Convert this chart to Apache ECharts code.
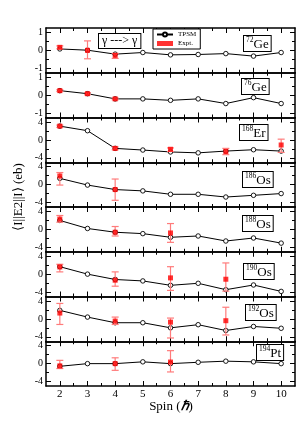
<!DOCTYPE html>
<html><head><meta charset="utf-8">
<script src="https://cdn.jsdelivr.net/npm/echarts@6/dist/echarts.min.js"></script>
<style>html,body{margin:0;padding:0;background:#fff}#c{width:299px;height:423px}</style>
</head><body><div id="c"></div>
<script>
// ---------- data ----------
const spins = [2, 3, 4, 5, 6, 7, 8, 9, 10];
const xMajorTicks = [2, 3, 4, 5, 6, 7, 8, 9, 10];
const xMinorTicks = [2.5, 3.5, 4.5, 5.5, 6.5, 7.5, 8.5, 9.5];
const massNumbers = ['72', '76', '168', '186', '188', '190', '192', '194'];
const elements = ['Ge', 'Ge', 'Er', 'Os', 'Os', 'Os', 'Os', 'Pt'];
const geMajorTicks = [-1, 0, 1];
const geMinorTicks = [-0.5, 0.5];
const heavyMajorTicks = [-4, 0, 4];
const heavyMinorTicks = [-2, 2];

const tpsm_72Ge  = [0.08, 0.01, -0.21, -0.12, -0.25, -0.23, -0.18, -0.32, -0.12];
const tpsm_76Ge  = [0.25, 0.08, -0.21, -0.21, -0.29, -0.21, -0.47, -0.14, -0.47];
const tpsm_168Er = [3.07, 2.05, -1.9, -2.27, -2.7, -2.9, -2.5, -2.2, -2.5];
const tpsm_186Os = [1.4, -0.1, -1.1, -1.4, -2.16, -2.16, -2.77, -2.39, -2.0];
const tpsm_188Os = [2.0, 0.2, -0.64, -0.95, -1.77, -1.48, -2.6, -1.93, -3.07];
const tpsm_190Os = [1.66, 0.0, -1.2, -1.52, -2.5, -2.05, -3.48, -2.43, -3.86];
const tpsm_192Os = [1.9, 0.4, -0.86, -0.86, -2.0, -1.3, -2.6, -1.7, -2.1];
const tpsm_194Pt = [-0.6, 0.0, 0.0, 0.4, 0.0, 0.3, 0.55, 0.4, 0.0];

const expSpin_72Ge = [2, 3, 4];
const expVal_72Ge  = [0.17, 0.0, -0.28];
const expLo_72Ge   = [0.09, -0.47, -0.45];
const expHi_72Ge   = [0.25, 0.53, -0.17];

const expSpin_76Ge = [2, 3, 4];
const expVal_76Ge  = [0.25, 0.08, -0.21];
const expLo_76Ge   = [0.2, 0.02, -0.26];
const expHi_76Ge   = [0.3, 0.14, -0.16];

const expSpin_168Er = [2, 4, 6, 8, 10];
const expVal_168Er  = [3.07, -1.9, -2.1, -2.6, -1.14];
const expLo_168Er   = [2.8, -2.2, -2.6, -3.3, -2.8];
const expHi_168Er   = [3.3, -1.6, -1.8, -1.9, 0.16];

const expSpin_186Os = [2, 4];
const expVal_186Os  = [1.93, -1.1];
const expLo_186Os   = [-0.1, -3.5];
const expHi_186Os   = [2.7, 1.25];

const expSpin_188Os = [2, 4, 6];
const expVal_188Os  = [2.3, -0.64, -0.8];
const expLo_188Os   = [1.6, -1.48, -2.9];
const expHi_188Os   = [3.1, 0.64, 1.3];

const expSpin_190Os = [2, 4, 6, 8];
const expVal_190Os  = [1.6, -1.36, -0.84, -1.14];
const expLo_190Os   = [0.5, -2.7, -3.64, -3.8];
const expHi_190Os   = [2.2, 0.5, 1.66, 2.5];

const expSpin_192Os = [2, 4, 6, 8];
const expVal_192Os  = [1.3, -0.5, -0.73, -0.41];
const expLo_192Os   = [-1.25, -1.25, -4.27, -3.6];
const expHi_192Os   = [3.45, 0.4, 0.18, 2.6];

const expSpin_194Pt = [2, 4, 6];
const expVal_194Pt  = [-0.5, 0.0, 0.35];
const expLo_194Pt   = [-1.1, -1.5, -1.86];
const expHi_194Pt   = [0.73, 1.3, 2.9];

const panels = [
  {tpsm: tpsm_72Ge,  es: expSpin_72Ge,  ev: expVal_72Ge,  el: expLo_72Ge,  eh: expHi_72Ge,  ge: true},
  {tpsm: tpsm_76Ge,  es: expSpin_76Ge,  ev: expVal_76Ge,  el: expLo_76Ge,  eh: expHi_76Ge,  ge: true},
  {tpsm: tpsm_168Er, es: expSpin_168Er, ev: expVal_168Er, el: expLo_168Er, eh: expHi_168Er, ge: false},
  {tpsm: tpsm_186Os, es: expSpin_186Os, ev: expVal_186Os, el: expLo_186Os, eh: expHi_186Os, ge: false},
  {tpsm: tpsm_188Os, es: expSpin_188Os, ev: expVal_188Os, el: expLo_188Os, eh: expHi_188Os, ge: false},
  {tpsm: tpsm_190Os, es: expSpin_190Os, ev: expVal_190Os, el: expLo_190Os, eh: expHi_190Os, ge: false},
  {tpsm: tpsm_192Os, es: expSpin_192Os, ev: expVal_192Os, el: expLo_192Os, eh: expHi_192Os, ge: false},
  {tpsm: tpsm_194Pt, es: expSpin_194Pt, ev: expVal_194Pt, el: expLo_194Pt, eh: expHi_194Pt, ge: false}
];

// ---------- layout ----------
const FONT = 'Liberation Serif';
const gridLeft = 46, gridWidth = 249, gridTop = 28, panelH = 44.75;
const labelBoxes = [[243, 35], [241, 78], [239, 124], [242, 171], [242, 215], [243, 263], [245, 304], [256, 344]];

const grids = [], xAxes = [], yAxes = [], series = [];
const lineStyleAxis = {color: '#000', width: 1.5};

panels.forEach((p, i) => {
  grids.push({left: gridLeft, width: gridWidth, top: gridTop + i * panelH, height: panelH});
  const last = i === panels.length - 1;
  const mkX = (pos, ticks, len, showLine, labels) => ({
    gridIndex: i, type: 'value', position: pos, min: 1.5, max: 10.5,
    axisLine: {show: showLine, onZero: false, lineStyle: lineStyleAxis},
    axisTick: {show: true, inside: true, length: len, customValues: ticks, lineStyle: {color: '#000', width: 1}},
    axisLabel: labels ? {show: true, customValues: xMajorTicks, margin: 3, color: '#000', fontFamily: FONT, fontSize: 11} : {show: false},
    splitLine: {show: false}
  });
  xAxes.push(mkX('bottom', xMajorTicks, 5, true, last));
  xAxes.push(mkX('bottom', xMinorTicks, 3, false, false));
  xAxes.push(mkX('top', xMajorTicks, 5, true, false));
  xAxes.push(mkX('top', xMinorTicks, 3, false, false));

  const ymin = p.ge ? -1.25 : -5, ymax = p.ge ? 1.25 : 5;
  const maj = p.ge ? geMajorTicks : heavyMajorTicks;
  const min = p.ge ? geMinorTicks : heavyMinorTicks;
  const mkY = (pos, ticks, len, showLine, labels) => ({
    gridIndex: i, type: 'value', position: pos, min: ymin, max: ymax,
    axisLine: {show: showLine, onZero: false, lineStyle: lineStyleAxis},
    axisTick: {show: true, inside: true, length: len, customValues: ticks, lineStyle: {color: '#000', width: 1}},
    axisLabel: labels ? {show: true, customValues: maj, margin: 3, color: '#000', fontFamily: FONT, fontSize: 10,
      formatter: v => (v < 0 ? '-' + Math.abs(v) : '' + v)} : {show: false},
    splitLine: {show: false}
  });
  yAxes.push(mkY('left', maj, 5, true, true));
  yAxes.push(mkY('left', min, 3, false, false));
  yAxes.push(mkY('right', maj, 5, true, false));
  yAxes.push(mkY('right', min, 3, false, false));

  series.push({
    name: 'TPSM', type: 'line', xAxisIndex: 4 * i, yAxisIndex: 4 * i, z: 2,
    data: spins.map((s, k) => [s, p.tpsm[k]]),
    symbol: 'circle', symbolSize: 4.5, showSymbol: true,
    lineStyle: {color: '#000', width: 1},
    itemStyle: {color: '#fff', borderColor: '#000', borderWidth: 0.9},
    animation: false
  });
  series.push({
    name: 'Expt. err', type: 'custom', xAxisIndex: 4 * i, yAxisIndex: 4 * i, z: 3,
    data: p.es.map((s, k) => [s, p.el[k], p.eh[k]]),
    renderItem: (params, api) => {
      const x = api.value(0);
      const a = api.coord([x, api.value(1)]);
      const b = api.coord([x, api.value(2)]);
      const w = 3.5;
      const st = {stroke: '#ff7b7b', lineWidth: 1.2};
      return {type: 'group', children: [
        {type: 'line', shape: {x1: a[0], y1: a[1], x2: b[0], y2: b[1]}, style: st},
        {type: 'line', shape: {x1: a[0] - w, y1: a[1], x2: a[0] + w, y2: a[1]}, style: st},
        {type: 'line', shape: {x1: b[0] - w, y1: b[1], x2: b[0] + w, y2: b[1]}, style: st}
      ]};
    },
    animation: false
  });
  series.push({
    name: 'Expt.', type: 'scatter', xAxisIndex: 4 * i, yAxisIndex: 4 * i, z: 4,
    data: p.es.map((s, k) => [s, p.ev[k]]),
    symbol: 'rect', symbolSize: 5, itemStyle: {color: '#ff0000'},
    animation: false
  });
});

const graphics = [];
panels.forEach((p, i) => {
  graphics.push({
    type: 'text', left: labelBoxes[i][0], top: labelBoxes[i][1], z: 10,
    style: {
      text: '{s|' + massNumbers[i] + '}{m|' + elements[i] + '}',
      backgroundColor: '#fff', borderColor: '#000', borderWidth: 1, padding: [0, 2, 0, 2],
      rich: {
        s: {fontFamily: FONT, fontSize: 7.5, fill: '#000', verticalAlign: 'top', lineHeight: 15},
        m: {fontFamily: FONT, fontSize: 13, fill: '#000', verticalAlign: 'bottom', lineHeight: 15}
      }
    }
  });
});
graphics.push({
  type: 'text', left: 98, top: 33, z: 10,
  style: {text: 'γ ---> γ', fontFamily: FONT, fontSize: 12, fill: '#000', backgroundColor: '#fff',
    borderColor: '#000', borderWidth: 1, padding: [1, 3, 1, 3]}
});
graphics.push({
  type: 'text', x: 171, y: 407, z: 10,
  style: {text: 'Spin ({b|ℏ})', fontFamily: FONT, fontSize: 13, fill: '#000', align: 'center', verticalAlign: 'middle',
    rich: {b: {fontFamily: FONT, fontSize: 13, fontWeight: 'bold', fontStyle: 'italic', fill: '#000'}}}
});
graphics.push({
  type: 'text', x: 19, y: 197, rotation: Math.PI / 2, z: 10,
  style: {text: '⟨I||E2||I⟩ (eb)', fontFamily: FONT, fontSize: 13, fill: '#000', align: 'center', verticalAlign: 'middle'}
});

const chart = echarts.init(document.getElementById('c'), null, {renderer: 'canvas'});
chart.setOption({
  animation: false,
  backgroundColor: '#fff',
  grid: grids,
  xAxis: xAxes,
  yAxis: yAxes,
  legend: {
    data: ['TPSM', 'Expt.'], left: 153, top: 29, orient: 'vertical', itemGap: 2,
    itemWidth: 16, itemHeight: 5, padding: [2, 4, 2, 3], borderColor: '#000', borderWidth: 1,
    backgroundColor: '#fff', textStyle: {fontFamily: FONT, fontSize: 7, color: '#000'}, selectedMode: false
  },
  graphic: graphics,
  series: series
});
</script></body></html>
